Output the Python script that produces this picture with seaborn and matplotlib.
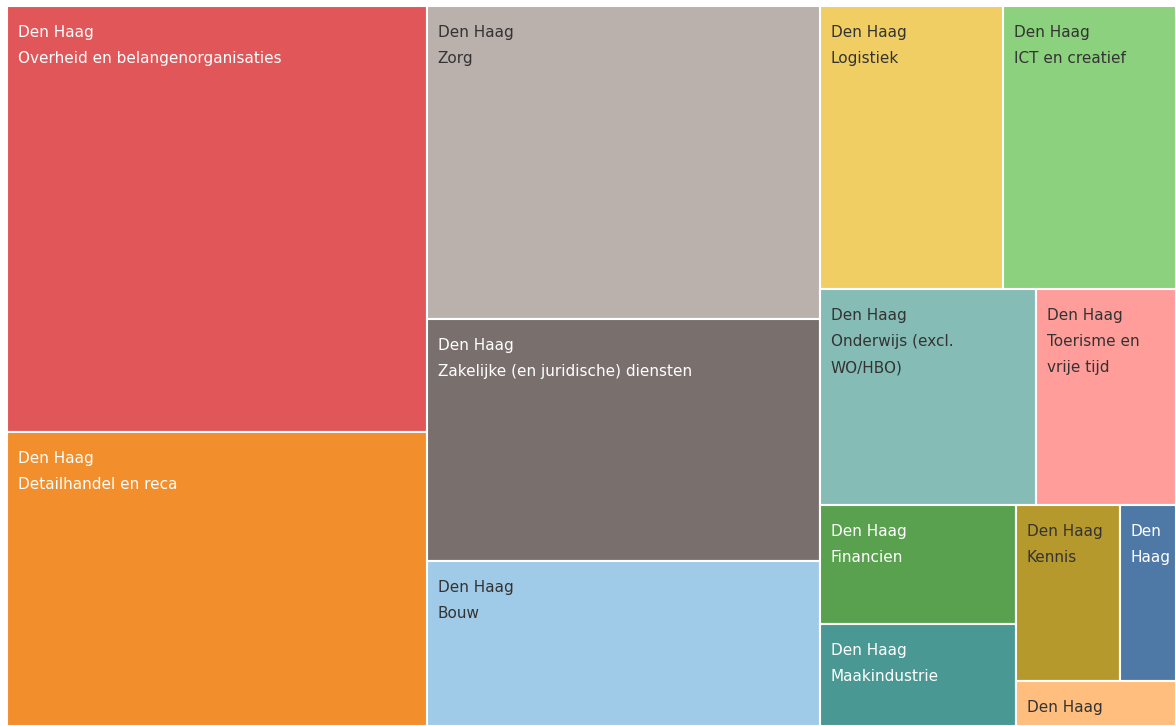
import matplotlib
matplotlib.use("Agg")
import matplotlib.pyplot as plt
from matplotlib.patches import Rectangle
import seaborn as sns
import pandas as pd

# --- data (relative sizes) ---
city = "Den Haag"
sectors = ["Overheid en belangenorganisaties", "Detailhandel en reca", "Zorg",
           "Zakelijke (en juridische) diensten", "Bouw", "Logistiek", "ICT en creatief",
           "Onderwijs (excl. WO/HBO)", "Toerisme en vrije tijd", "Financien",
           "Maakindustrie", "Kennis", "Overig 1", "Overig 2"]
values = [1789, 1232, 1230, 953, 650, 518, 490, 467, 302, 233, 200, 183, 99, 72]
labels = ["Den Haag\nOverheid en belangenorganisaties", "Den Haag\nDetailhandel en reca",
          "Den Haag\nZorg", "Den Haag\nZakelijke (en juridische) diensten", "Den Haag\nBouw",
          "Den Haag\nLogistiek", "Den Haag\nICT en creatief",
          "Den Haag\nOnderwijs (excl.\nWO/HBO)", "Den Haag\nToerisme en\nvrije tijd",
          "Den Haag\nFinancien", "Den Haag\nMaakindustrie", "Den Haag\nKennis",
          "Den\nHaag", "Den Haag"]
colors = ["#E15759", "#F28E2B", "#BAB0AC", "#79706E", "#A0CBE8", "#F1CE63", "#8CD17D",
          "#86BCB6", "#FF9D9A", "#59A14F", "#499894", "#B6992D", "#4E79A7", "#FFBE7D"]
text_colors = ["white", "white", "#333333", "white", "#333333", "#333333", "#333333",
               "#333333", "#333333", "white", "white", "#333333", "white", "#333333"]

df = pd.DataFrame({"sector": sectors, "value": values, "label": labels,
                   "color": colors, "tcolor": text_colors})

# how many items go in each strip (Tableau-style squarified layout)
strips = [2, 3, 2, 2, 2, 2, 1]


def strip_layout(vals, x, y, w, h, strip_sizes):
    rects = []
    i = 0
    for n in strip_sizes:
        chunk = vals[i:i + n]
        remaining = sum(vals[i:])
        frac = sum(chunk) / remaining
        if w >= h:
            sw = w * frac
            yy = y
            for v in chunk:
                rh = h * v / sum(chunk)
                rects.append((x, yy, sw, rh))
                yy += rh
            x += sw
            w -= sw
        else:
            sh = h * frac
            xx = x
            for v in chunk:
                rw = w * v / sum(chunk)
                rects.append((xx, y, rw, sh))
                xx += rw
            y += sh
            h -= sh
        i += n
    return rects


sns.set_theme(style="white")
plt.rcParams["font.family"] = ["DejaVu Sans"]

fig = plt.figure(figsize=(11.76, 7.26), dpi=100)
ax = fig.add_axes([0, 0, 1, 1])
ax.set_xlim(0, 1176)
ax.set_ylim(726, 0)
ax.axis("off")

rects = strip_layout(df["value"].tolist(), 7, 6, 1169, 720, strips)

for (x, y, w, h), row in zip(rects, df.itertuples()):
    patch = Rectangle((x, y), w, h, facecolor=row.color, edgecolor="white", linewidth=1.5)
    ax.add_patch(patch)
    for k, line in enumerate(row.label.split("\n")):
        t = ax.text(x + 11, y + 31 + 26 * k, line, color=row.tcolor, fontsize=11,
                    ha="left", va="baseline")
        t.set_clip_path(patch)

fig.savefig("out.png", dpi=100)
